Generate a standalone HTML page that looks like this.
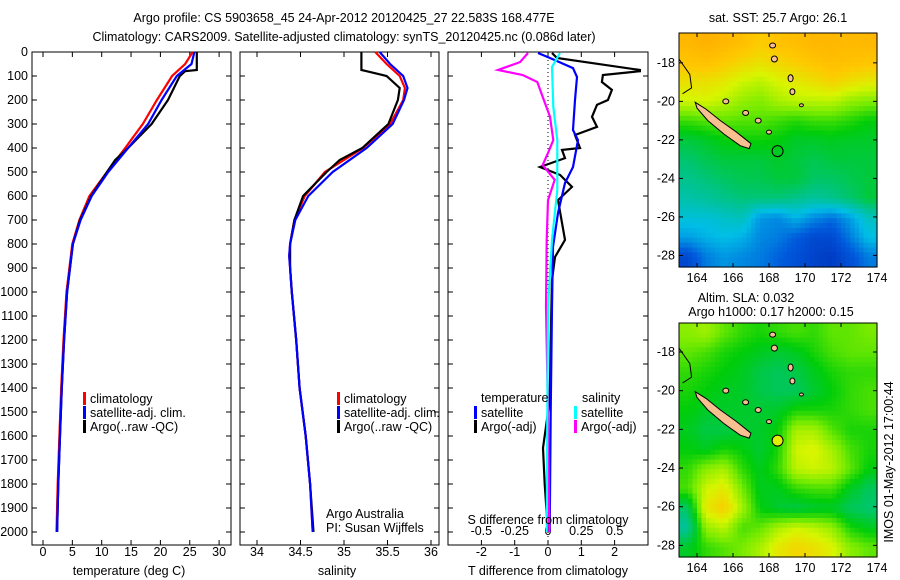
<!DOCTYPE html>
<html><head><meta charset="utf-8">
<style>
html,body{margin:0;padding:0;background:#fff;}
svg{display:block;font-family:"Liberation Sans",sans-serif;}
text{font-size:12.5px;fill:#000;}
</style></head>
<body>
<svg id="fig" width="900" height="580" viewBox="0 0 900 580">
<text x="344" y="22" text-anchor="middle" font-size="13">Argo profile: CS 5903658_45 24-Apr-2012 20120425_27 22.583S 168.477E</text>
<text x="344" y="41" text-anchor="middle" font-size="13">Climatology: CARS2009. Satellite-adjusted climatology: synTS_20120425.nc (0.086d later)</text>
<text x="778" y="22" text-anchor="middle">sat. SST: 25.7 Argo: 26.1</text>
<text x="746" y="302" text-anchor="middle">Altim. SLA: 0.032</text>
<text x="771" y="316" text-anchor="middle">Argo h1000: 0.17 h2000: 0.15</text>
<text transform="translate(893,462) rotate(-90)" text-anchor="middle">IMOS 01-May-2012 17:00:44</text>
</svg>
<script>
// ---- profile data ----
const depthT = [0,75,80,100,200,300,400,450,500,600,700,800,900,1000,1200,1400,1600,1800,2000];
const tempArgo = [26.2,26.2,24.2,23.3,21.3,18.5,14.5,12.3,10.9,8.2,6.3,5.1,4.6,4.1,3.6,3.2,2.9,2.6,2.4];
const depthC = [0,50,100,200,300,400,500,600,700,800,900,1000,1200,1400,1600,1800,2000];
const tempClim = [25.5,24.2,22.0,19.4,17.0,14.0,10.9,7.9,6.2,5.0,4.5,4.0,3.5,3.1,2.8,2.5,2.3];
const tempSat = [25.8,25.3,22.8,20.2,17.9,14.5,11.1,8.3,6.4,5.1,4.6,4.1,3.6,3.2,2.9,2.6,2.4];
const depthS = [0,75,80,100,150,200,300,400,450,500,600,700,800,900,1000,1200,1400,1600,1800,2000];
const salArgo = [35.2,35.2,35.26,35.49,35.64,35.62,35.51,35.21,34.95,34.8,34.53,34.43,34.38,34.38,34.4,34.45,34.49,34.56,34.61,34.65];
const depthSC = [0,50,100,150,200,300,400,500,600,700,800,850,900,1000,1200,1400,1600,1800,2000];
const salClim = [35.36,35.49,35.64,35.70,35.68,35.53,35.22,34.78,34.55,34.43,34.38,34.37,34.38,34.40,34.45,34.49,34.56,34.61,34.64];
const salSat = [35.41,35.53,35.68,35.73,35.69,35.56,35.26,34.87,34.59,34.44,34.38,34.37,34.38,34.40,34.45,34.49,34.56,34.61,34.64];
// difference panel
const dDepthTA = [4,25,75,80,96,125,158,200,220,270,312,346,400,408,442,479,512,562,617,783,854,950,1200,1450,1650,1800,2000];
const dTArgo = [0.12,0.27,2.76,2.76,1.65,1.62,1.92,1.8,1.47,1.32,1.47,0.81,0.96,0.42,0.51,-0.24,0.36,0.72,0.3,0.51,0.21,0.12,0.08,0.05,-0.15,-0.1,0.0];
const dDepthTS = [4,25,67,104,200,325,367,479,546,671,812,1062,1500,2000];
const dTSat = [-0.3,0.06,0.75,0.87,0.81,0.75,0.9,0.75,0.51,0.3,0.15,0.12,0.08,0.05];
const dDepthSA = [4,42,75,96,125,179,270,367,421,471,533,617,783,1062,1500,2000];
const dSArgo = [-0.15,-0.21,-0.375,-0.19,-0.08,-0.045,0.015,0.04,0,-0.04,0.05,0,-0.01,-0.015,0.0,0.01];
const dDepthSS = [4,62,229,367,575,783,1062,1500,2000];
const dSSat = [0.09,0.03,0.04,0.07,0.07,0.03,0,-0.005,-0.01];
const depthTicks = [0,100,200,300,400,500,600,700,800,900,1000,1100,1200,1300,1400,1500,1600,1700,1800,1900,2000];
const tempTicks = [0,5,10,15,20,25,30];
const salTicks = [34,34.5,35,35.5,36];
const tdTicks = [-2,-1,0,1,2];
const sdTicks = [-0.5,-0.25,0,0.25,0.5];
// map grids (normalized colour values) rows north->south, cols 163..174
const sstGrid = [
[0.9,0.92,0.9,0.88,0.84,0.87,0.88,0.9,0.9,0.89,0.9],
[0.86,0.87,0.85,0.82,0.8,0.82,0.84,0.86,0.88,0.87,0.86],
[0.8,0.8,0.78,0.74,0.72,0.75,0.78,0.8,0.83,0.8,0.78],
[0.74,0.75,0.72,0.68,0.66,0.7,0.72,0.72,0.72,0.68,0.66],
[0.6,0.62,0.63,0.62,0.62,0.6,0.58,0.6,0.6,0.58,0.55],
[0.5,0.52,0.55,0.56,0.56,0.55,0.52,0.52,0.53,0.52,0.52],
[0.45,0.48,0.5,0.5,0.5,0.52,0.5,0.48,0.5,0.5,0.5],
[0.42,0.44,0.46,0.48,0.48,0.5,0.5,0.46,0.46,0.48,0.5],
[0.38,0.4,0.42,0.44,0.44,0.44,0.42,0.4,0.42,0.45,0.5],
[0.32,0.32,0.34,0.36,0.24,0.22,0.28,0.22,0.18,0.25,0.35],
[0.25,0.28,0.3,0.28,0.22,0.2,0.15,0.1,0.1,0.2,0.3],
[0.1,0.2,0.24,0.22,0.2,0.16,0.12,0.08,0.06,0.12,0.2]];
const slaGrid = [
[0.67,0.69,0.63,0.59,0.57,0.59,0.61,0.59,0.63,0.63,0.65],
[0.63,0.61,0.57,0.55,0.53,0.51,0.53,0.57,0.61,0.63,0.63],
[0.59,0.57,0.55,0.53,0.49,0.47,0.49,0.53,0.57,0.59,0.59],
[0.57,0.55,0.53,0.52,0.49,0.47,0.47,0.51,0.55,0.59,0.61],
[0.55,0.52,0.52,0.52,0.51,0.52,0.57,0.57,0.57,0.59,0.61],
[0.53,0.49,0.49,0.51,0.52,0.55,0.7,0.7,0.62,0.57,0.57],
[0.55,0.53,0.57,0.55,0.51,0.57,0.74,0.76,0.7,0.61,0.57],
[0.59,0.67,0.7,0.59,0.53,0.59,0.72,0.74,0.72,0.63,0.55],
[0.61,0.74,0.78,0.65,0.53,0.53,0.59,0.61,0.61,0.53,0.47],
[0.46,0.78,0.84,0.7,0.55,0.51,0.49,0.51,0.52,0.47,0.45],
[0.4,0.68,0.72,0.61,0.63,0.7,0.74,0.72,0.68,0.57,0.53],
[0.52,0.59,0.62,0.65,0.7,0.78,0.82,0.8,0.76,0.67,0.63]];
const lonTicks = [164,166,168,170,172,174];
const latTicks = [-18,-20,-22,-24,-26,-28];

const svg = document.getElementById('fig');
const NS = 'http://www.w3.org/2000/svg';
function mk(tag, attrs, parent){ const e=document.createElementNS(NS,tag); for(const k in attrs) e.setAttribute(k,attrs[k]); (parent||svg).appendChild(e); return e; }
function txt(x,y,s,anchor,parent){ const t=mk('text',{x:x,y:y,'text-anchor':anchor||'start'},parent); t.textContent=s; return t; }

const TOP=52, BOT=545;
const yD = d => TOP + d*0.24;
function panel(name,x0,x1){
  const r=mk('rect',{x:x0,y:TOP,width:x1-x0,height:BOT-TOP,fill:'none',stroke:'#000','stroke-width':1});
  
  
}
function line(name,xs,ds,xf,color){
  const pts=xs.map((v,i)=>xf(v).toFixed(1)+','+yD(ds[i]).toFixed(1)).join(' ');
  const p=mk('polyline',{points:pts,fill:'none',stroke:color,'stroke-width':2.2,'stroke-linejoin':'miter'});
  
  
}
function xticks(xf,ticks,y){
  ticks.forEach(t=>{ const x=xf(t);
    mk('line',{x1:x,y1:BOT,x2:x,y2:BOT-5,stroke:'#000'});
    mk('line',{x1:x,y1:TOP,x2:x,y2:TOP+5,stroke:'#000'});
    const l=txt(x,y,String(t),'middle');
    
    
  });
}
function legendItem(x,y,color,label,name){
  mk('rect',{x:x,y:y-11,width:3,height:13,fill:color});
  const t=txt(x+7,y,label);
  
  
}

// Panel 1 temperature
const xT = v => 43 + v*5.87;
panel('temperature-panel',32,231);
depthTicks.forEach(d=>{ const y=yD(d);
  mk('line',{x1:32,y1:y,x2:37,y2:y,stroke:'#000'}); mk('line',{x1:231,y1:y,x2:226,y2:y,stroke:'#000'});
  mk('line',{x1:240,y1:y,x2:245,y2:y,stroke:'#000'}); mk('line',{x1:439,y1:y,x2:434,y2:y,stroke:'#000'});
  mk('line',{x1:448,y1:y,x2:453,y2:y,stroke:'#000'}); mk('line',{x1:648,y1:y,x2:643,y2:y,stroke:'#000'});
  const l=txt(28,y+4,String(d),'end');
  
  
});
xticks(xT,tempTicks,556);
line('temp-climatology-line',tempClim,depthC,xT,'#ff0000');
line('temp-argo-line',tempArgo,depthT,xT,'#000000');
line('temp-satellite-line',tempSat,depthC,xT,'#0000ff');
const xl1=txt(129,575,'temperature (deg C)','middle');


legendItem(83,403,'#ff0000','climatology','legend-climatology');
legendItem(83,417,'#0000ff','satellite-adj. clim.','legend-satellite-adj');
legendItem(83,431,'#000000','Argo(..raw -QC)','legend-argo');

// Panel 2 salinity
const xS = v => 257 + (v-34)*87;
panel('salinity-panel',240,439);
xticks(xS,salTicks,556);
line('sal-climatology-line',salClim,depthSC,xS,'#ff0000');
line('sal-argo-line',salArgo,depthS,xS,'#000000');
line('sal-satellite-line',salSat,depthSC,xS,'#0000ff');
const xl2=txt(337,575,'salinity','middle');


legendItem(337,403,'#ff0000','climatology','legend2-climatology');
legendItem(337,417,'#0000ff','satellite-adj. clim.','legend2-satellite-adj');
legendItem(337,431,'#000000','Argo(..raw -QC)','legend2-argo');
const a1=txt(326,518,'Argo Australia');  
const a2=txt(326,532,'PI: Susan Wijffels');  

// Panel 3 differences
const xDT = v => 548 + v*33.3;
const xDS = v => 548 + v*133.3;
panel('difference-panel',448,648);
mk('line',{x1:548,y1:TOP,x2:548,y2:BOT,stroke:'#000','stroke-dasharray':'1,3'});
xticks(xDT,tdTicks,556);
sdTicks.forEach(t=>{ const l=txt(xDS(t),535,String(t),'middle');  });
line('t-diff-argo-line',dTArgo,dDepthTA,xDT,'#000000');
line('t-diff-satellite-line',dTSat,dDepthTS,xDT,'#0000ff');
line('s-diff-argo-line',dSArgo,dDepthSA,xDS,'#ff00ff');
line('s-diff-satellite-line',dSSat,dDepthSS,xDS,'#00ffff');
const sl=txt(548,524,'S difference from climatology','middle');  
const tl=txt(548,575,'T difference from climatology','middle');  
const lt=txt(481,402,'temperature');  
const ls=txt(582,402,'salinity');  
legendItem(474,417,'#0000ff','satellite','legend3-t-satellite');
legendItem(474,431,'#000000','Argo(-adj)','legend3-t-argo');
legendItem(574,417,'#00ffff','satellite','legend3-s-satellite');
legendItem(574,431,'#ff00ff','Argo(-adj)','legend3-s-argo');

// ---- maps ----
const stops=[[0,[0,40,180]],[0.15,[0,90,220]],[0.3,[0,190,230]],[0.42,[0,195,140]],[0.55,[0,205,10]],[0.65,[120,235,0]],[0.75,[215,245,0]],[0.85,[255,200,0]],[1,[255,150,0]]];
function cmap(v){ for(let i=1;i<stops.length;i++){ if(v<=stops[i][0]){ const a=stops[i-1],b=stops[i],f=(v-a[0])/(b[0]-a[0]); return 'rgb('+a[1].map((c,k)=>Math.round(c+(b[1][k]-c)*f)).join(',')+')'; } } return 'rgb(255,150,0)'; }
function map(name,grid,x0,x1,y0,y1,latTop,latBot,circleFill){
  const g=mk('g',{});  
  const lx = lon => x0 + (lon-163)*(x1-x0)/11;
  const ly = lat => y0 + (latTop-lat)*(y1-y0)/(latTop-latBot);
  const nr=grid.length, nc=grid[0].length, cw=(x1-x0)/nc, ch=(y1-y0)/nr;
  const sub=4;
  for(let r=0;r<nr*sub;r++) for(let c=0;c<nc*sub;c++){
    const fr=Math.min(nr-1,Math.max(0,(r+0.5)/sub-0.5)), fc=Math.min(nc-1,Math.max(0,(c+0.5)/sub-0.5));
    const r0=Math.floor(fr), c0=Math.floor(fc), r1=Math.min(nr-1,r0+1), c1=Math.min(nc-1,c0+1), dr=fr-r0, dc=fc-c0;
    const v=grid[r0][c0]*(1-dr)*(1-dc)+grid[r0][c1]*(1-dr)*dc+grid[r1][c0]*dr*(1-dc)+grid[r1][c1]*dr*dc;
    mk('rect',{x:(x0+c*cw/sub).toFixed(2),y:(y0+r*ch/sub).toFixed(2),width:(cw/sub+0.6).toFixed(2),height:(ch/sub+0.6).toFixed(2),fill:cmap(v)},g);
  }
  const nc_pts=[[163.9,-20.05],[164.5,-20.4],[165.3,-21.0],[166.2,-21.6],[167.0,-22.2],[166.9,-22.45],[166.4,-22.3],[165.5,-21.7],[164.6,-21.0],[164.0,-20.35]];
  mk('polygon',{points:nc_pts.map(p=>lx(p[0]).toFixed(1)+','+ly(p[1]).toFixed(1)).join(' '),fill:'#f8c090',stroke:'#000','stroke-width':1},g);
  const isl=[[168.2,-17.1,3,2.5],[168.3,-17.8,3,3],[169.2,-18.8,2.5,3.5],[169.3,-19.5,2.5,3],[169.8,-20.2,2,1.5],[165.6,-20.0,3,2.5],[166.7,-20.6,3,2.5],[167.4,-21.0,3,2.5],[168.0,-21.6,2.5,2]];
  isl.forEach(i=>mk('ellipse',{cx:lx(i[0]),cy:ly(i[1]),rx:i[2],ry:i[3],fill:'#f8c090',stroke:'#000','stroke-width':1},g));
  mk('polyline',{points:[[163,-17.8],[163.6,-18.6],[163.7,-19.3],[163.2,-19.6]].map(p=>lx(p[0])+','+ly(p[1])).join(' '),fill:'none',stroke:'#000','stroke-width':1},g);
  const circ=mk('circle',{cx:lx(168.477),cy:ly(-22.583),r:5.5,fill:circleFill,stroke:'#000','stroke-width':1},g);
  
  
  mk('rect',{x:x0,y:y0,width:x1-x0,height:y1-y0,fill:'none',stroke:'#000'},g);
  lonTicks.forEach(t=>{ const x=lx(t); mk('line',{x1:x,y1:y1,x2:x,y2:y1-4,stroke:'#000'},g); mk('line',{x1:x,y1:y0,x2:x,y2:y0+4,stroke:'#000'},g);
    const l=txt(x,y1+15,String(t),'middle',g);   });
  latTicks.forEach(t=>{ const y=ly(t); if(y<y0||y>y1) return; mk('line',{x1:x0,y1:y,x2:x0+4,y2:y,stroke:'#000'},g); mk('line',{x1:x1,y1:y,x2:x1-4,y2:y,stroke:'#000'},g);
    const l=txt(x0-4,y+4,String(t),'end',g);   });
}
map('sst-map',sstGrid,679,877,33,267,-16.45,-28.6,'none');
map('sla-map',slaGrid,679,877,323,557,-16.5,-28.6,'#e0f000');
</script>
</body></html>
